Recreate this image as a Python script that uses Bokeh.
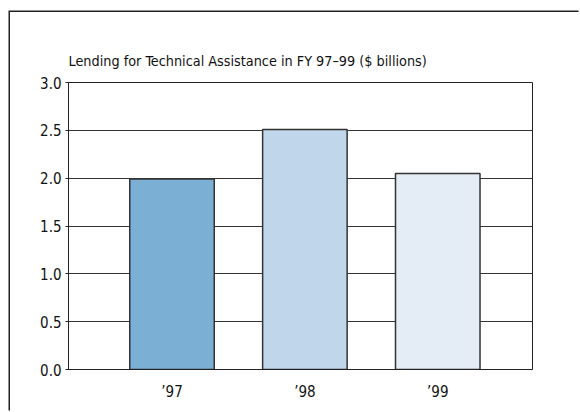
from bokeh.plotting import figure
from bokeh.models import FixedTicker, Range1d, ColumnDataSource
from bokeh.embed import file_html
from bokeh.resources import INLINE

years = ["\u201997", "\u201998", "\u201999"]
lending = [1.99, 2.51, 2.05]
colors = ["#7BAFD4", "#C0D6EA", "#E4ECF5"]
positions = [1, 2, 3]
y_ticks = [0.0, 0.5, 1.0, 1.5, 2.0, 2.5, 3.0]
title_text = "Lending for Technical Assistance in FY 97\u201399 ($ billions)"

FONT = "DejaVu Sans Condensed"

p = figure(width=570, height=400, output_backend="svg", toolbar_location=None,
           x_range=Range1d(0.221, 3.713), y_range=Range1d(0, 3.0),
           min_border_left=58, min_border_right=48, min_border_top=70, min_border_bottom=43)

src = ColumnDataSource(dict(x=positions, top=lending, color=colors))
p.vbar(x="x", top="top", width=0.636, bottom=0, source=src, fill_color="color",
       line_color="#333333", line_width=1.5)

p.title.text = title_text
p.title.text_font = FONT
p.title.text_font_size = "14.3px"
p.title.text_font_style = "normal"
p.title.text_color = "#111111"
p.title.align = "left"
p.title.offset = 0
p.title.standoff = 28

p.outline_line_color = "#222222"
p.outline_line_width = 1
p.xgrid.grid_line_color = None
p.ygrid.grid_line_color = "#333333"
p.ygrid.grid_line_width = 1
p.yaxis.ticker = FixedTicker(ticks=y_ticks)
p.xaxis.ticker = FixedTicker(ticks=positions)
p.xaxis.major_label_overrides = {pos: lab for pos, lab in zip(positions, years)}
p.yaxis.major_label_overrides = {t: f"{t:.1f}" for t in y_ticks}
for ax in (p.xaxis, p.yaxis):
    ax.major_label_text_font = FONT
    ax.major_label_text_font_size = "15px"
    ax.major_label_text_color = "#111111"
    ax.axis_line_color = "#222222"
    ax.minor_tick_line_color = None
p.xaxis.major_tick_line_color = None
p.xaxis.major_label_standoff = 7
p.yaxis.major_tick_in = 0
p.yaxis.major_tick_out = 3
p.yaxis.major_tick_line_color = "#222222"
p.yaxis.major_label_standoff = 4

p.styles = {"box-shadow": "-1.5px -1.5px 0 0 #222222",
            "margin-top": "12px", "margin-left": "10px"}

open("out.html", "w").write(file_html(p, INLINE))
